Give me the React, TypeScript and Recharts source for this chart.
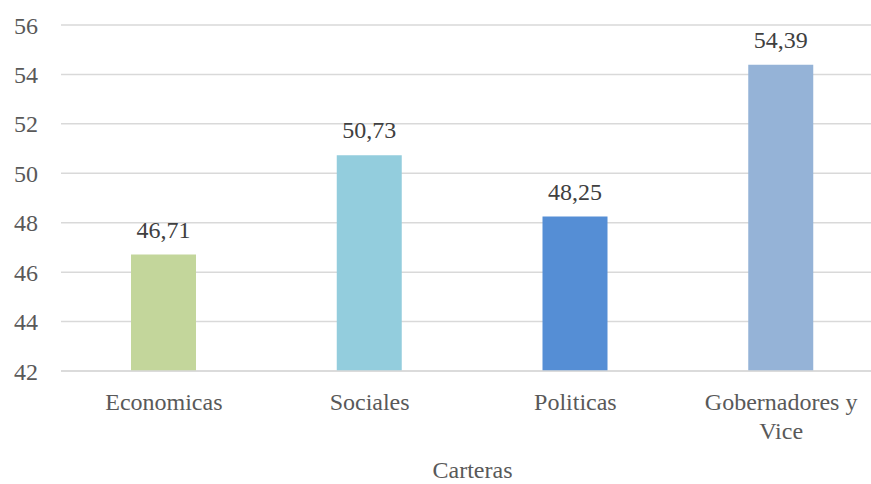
import React from "react";
import { BarChart, Bar, XAxis, YAxis, CartesianGrid, LabelList, Cell } from "recharts";

const categories = ["Economicas", "Sociales", "Politicas", "Gobernadores y Vice"];
const values = [46.71, 50.73, 48.25, 54.39];
const barColors = ["#C3D69B", "#93CDDD", "#558ED5", "#95B3D7"];
const yTicks = [42, 44, 46, 48, 50, 52, 54, 56];

const data = categories.map((name, i) => ({ name, value: values[i] }));

const FONT = "'Liberation Serif', serif";

// splits long category names onto two lines, like the original
const CategoryTick = (props: any) => {
  const { x, y, payload } = props;
  const text: string = payload.value;
  let lines = [text];
  if (text.length > 15) {
    const cut = text.lastIndexOf(" ");
    lines = [text.slice(0, cut), text.slice(cut + 1)];
  }
  return (
    <text x={x} y={y} textAnchor="middle" fill="#595959" fontSize={24} fontFamily={FONT}>
      {lines.map((l, i) => (
        <tspan key={i} x={x} dy={i === 0 ? 17 : 29}>
          {l}
        </tspan>
      ))}
    </text>
  );
};

const fmt = (v: any) => Number(v).toFixed(2).replace(".", ",");

export default function App() {
  return (
    <div style={{ position: "absolute", left: 0, top: 0, width: 871, height: 484, overflow: "hidden", background: "#fff" }}>
      <BarChart
        width={900}
        height={484}
        data={data}
        margin={{ top: 25, right: 16, left: 1, bottom: 0 }}
      >
        <CartesianGrid vertical={false} stroke="#D9D9D9" strokeWidth={1.5} />
        <XAxis
          dataKey="name"
          height={113}
          axisLine={{ stroke: "#D9D9D9", strokeWidth: 1.5 }}
          tickLine={false}
          tickSize={6}
          tickMargin={16}
          interval={0}
          tick={<CategoryTick />}
          label={{
            value: "Carteras",
            position: "insideBottom",
            offset: 6,
            fill: "#595959",
            fontSize: 24,
            fontFamily: FONT,
          }}
        />
        <YAxis
          width={60}
          domain={[42, 56]}
          ticks={yTicks}
          axisLine={false}
          tickLine={false}
          tickSize={6}
          tickMargin={17}
          tick={{ fill: "#595959", fontSize: 24, fontFamily: FONT }}
        />
        <Bar dataKey="value" barSize={65} isAnimationActive={false}>
          {data.map((d, i) => (
            <Cell key={d.name} fill={barColors[i]} />
          ))}
          <LabelList
            dataKey="value"
            position="top"
            offset={17}
            formatter={fmt}
            fill="#404040"
            fontSize={24}
            fontFamily={FONT}
          />
        </Bar>
      </BarChart>
    </div>
  );
}
